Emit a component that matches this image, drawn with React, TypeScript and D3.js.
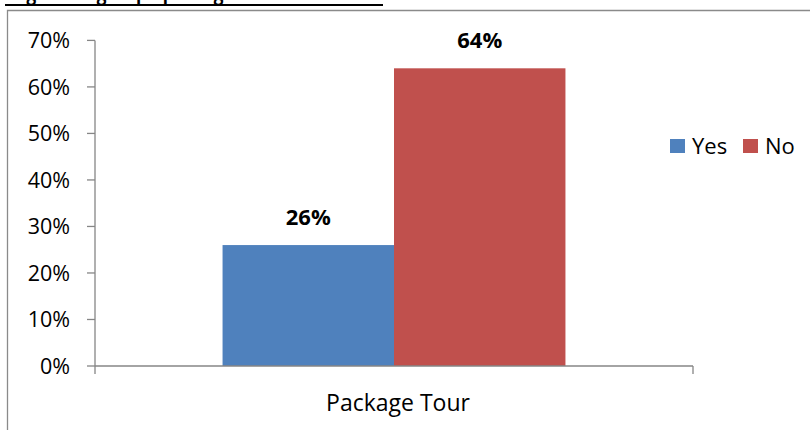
import React from "react";
import * as d3 from "d3";

const categories = ["Package Tour"];
const seriesNames = ["Yes", "No"];
const yesValues = [0.26];
const noValues = [0.64];
const yTicks = [0, 0.1, 0.2, 0.3, 0.4, 0.5, 0.6, 0.7];
const title = "Organized group / package tour Distribution";

const colors: Record<string, string> = { Yes: "#4F81BD", No: "#C0504D" };
const FONT = "'Open Sans', 'DejaVu Sans', sans-serif";

export default function App() {
  const W = 810, H = 430;
  const left = 95, right = 693, top = 40.4, bottom = 366;
  const y = d3.scaleLinear().domain([0, 0.7]).range([bottom, top]);
  const x0 = d3.scaleBand<string>().domain(categories).range([left, right]).paddingInner(0).paddingOuter(0.372);
  const x1 = d3.scaleBand<string>().domain(seriesNames).range([0, x0.bandwidth()]).padding(0);
  const seriesData: Record<string, number[]> = { Yes: yesValues, No: noValues };
  const axisColor = "#868686";

  return (
    <svg width={W} height={H} style={{ position: "absolute", left: 0, top: 0, background: "#fff" }}>
      {/* title (cut off at top, as in the reference) */}
      <text x={5} y={0} fontFamily={FONT} fontWeight="bold" fontSize={23} fill="#000" textLength={378} lengthAdjust="spacingAndGlyphs">{title}</text>
      <line x1={5} x2={383} y1={5} y2={5} stroke="#000" strokeWidth={2} />
      {/* frame */}
      <path d={`M7.5,${H} V10.5 H${W}`} fill="none" stroke="#8a8a8a" strokeWidth={1.3} />

      {/* y axis */}
      <line x1={left} x2={left} y1={top} y2={bottom} stroke={axisColor} strokeWidth={1.3} />
      {yTicks.map((t) => (
        <g key={t}>
          <line x1={left - 8} x2={left} y1={y(t)} y2={y(t)} stroke={axisColor} strokeWidth={1.3} />
          <text x={70} y={y(t)} dy="0.36em" textAnchor="end" fontFamily={FONT} fontSize={21.5} fill="#000">
            {d3.format(".0%")(t)}
          </text>
        </g>
      ))}

      {/* bars */}
      {categories.map((c, ci) => (
        <g key={c} transform={`translate(${x0(c)},0)`}>
          {seriesNames.map((s) => {
            const v = seriesData[s][ci];
            const bx = x1(s)!;
            return (
              <g key={s}>
                <rect x={bx} y={y(v)} width={x1.bandwidth()} height={bottom - y(v)} fill={colors[s]} />
                <text x={bx + x1.bandwidth() / 2} y={y(v) - 20} textAnchor="middle" fontFamily={FONT} fontWeight="bold" fontSize={22} fill="#000">
                  {d3.format(".0%")(v)}
                </text>
              </g>
            );
          })}
        </g>
      ))}

      {/* x axis */}
      <line x1={left} x2={right} y1={bottom} y2={bottom} stroke={axisColor} strokeWidth={1.3} />
      <line x1={left} x2={left} y1={bottom} y2={bottom + 8} stroke={axisColor} strokeWidth={1.3} />
      <line x1={right} x2={right} y1={bottom} y2={bottom + 8} stroke={axisColor} strokeWidth={1.3} />
      {categories.map((c) => (
        <text key={c} x={x0(c)! + x0.bandwidth() / 2 + 4} y={411} textAnchor="middle" fontFamily={FONT} fontSize={23} fill="#000">
          {c}
        </text>
      ))}

      {/* legend */}
      {seriesNames.map((s, i) => {
        const lx = i === 0 ? 670 : 743;
        return (
          <g key={s}>
            <rect x={lx} y={139} width={15} height={14} fill={colors[s]} />
            <text x={lx + 22} y={154} fontFamily={FONT} fontSize={22} fill="#000">{s}</text>
          </g>
        );
      })}
    </svg>
  );
}
